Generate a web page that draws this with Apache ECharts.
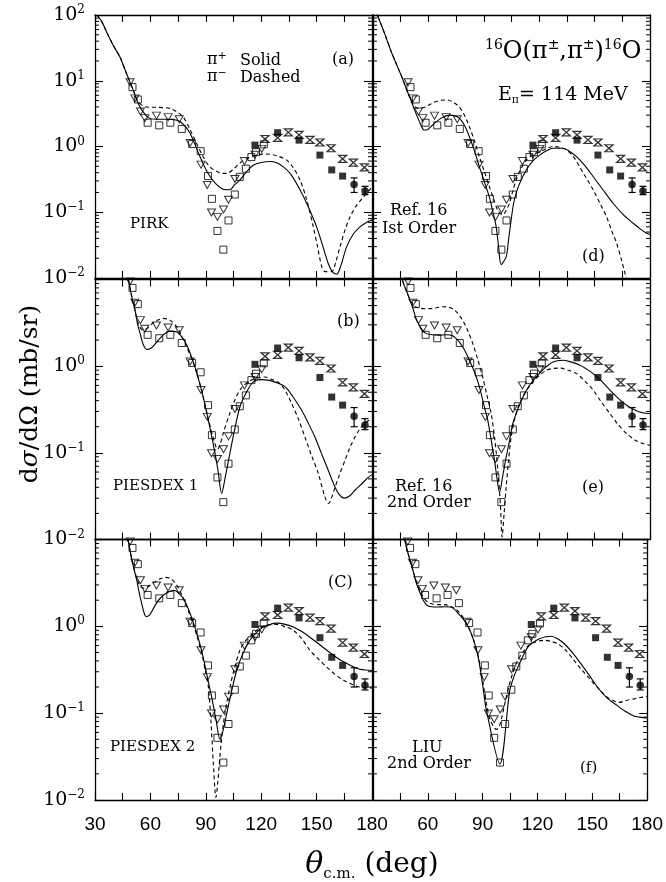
<!DOCTYPE html>
<html><head><meta charset="utf-8">
<script src="https://cdn.jsdelivr.net/npm/echarts@6/dist/echarts.min.js"></script>
<style>html,body{margin:0;padding:0;background:#fff}#c{width:666px;height:882px}</style>
</head><body><div id="c"></div>
<script>
// ---------- tick labels ----------
const xTickLabels = [30, 60, 90, 120, 150, 180];

// ---------- measured data (same in all panels) ----------
const triangleData = [[49.0,9.5],[51.6,5.4],[54.6,3.4],[57.0,2.7],[63.3,2.95],[69.6,2.8],[75.6,2.6],[81.5,1.13],[87.4,0.53],[90.8,0.26],[93.1,0.099],[96.3,0.085],[99.6,0.11],[102.3,0.155],[105.8,0.32],[110.9,0.6],[116.6,0.75],[120.3,0.92]];
const openSquareData = [[50.3,8.0],[53.2,5.2],[58.5,2.3],[64.8,2.1],[70.8,2.3],[77.0,1.85],[82.6,1.09],[87.2,0.85],[91.2,0.355],[93.3,0.16],[96.3,0.052],[99.5,0.027],[102.3,0.075],[105.7,0.186],[108.4,0.345],[111.7,0.46],[114.7,0.69],[117.2,0.82],[121.4,1.08]];
const filledSquareData = [[116.6,1.05],[128.9,1.62],[140.5,1.25],[151.8,0.74],[158.2,0.44],[164.1,0.355]];
const filledCircleData = [[170.3,0.264],[176.2,0.21]];
const circleErrors = [[170.3,0.2,0.333],[176.2,0.185,0.248]];
const crossData = [[122.1,1.3],[128.9,1.35],[134.7,1.64],[140.5,1.5],[146.4,1.26],[151.8,1.15],[157.8,0.94],[164.1,0.65],[169.9,0.57],[175.9,0.48]];

// ---------- model curves ----------
const aSolid = [[31,100],[33.6,80],[37,50],[40,34],[43.5,23],[47,13],[50.7,7.2],[53,4.8],[55.3,3.6],[58.9,2.75],[63,2.6],[68.8,2.6],[73,2.55],[76,2.4],[79,2.0],[81.4,1.6],[84,1.1],[86.9,0.7],[89.5,0.48],[92.3,0.35],[95.5,0.27],[98.6,0.23],[101,0.22],[103.1,0.22],[105.5,0.26],[108.5,0.31],[112,0.41],[115.7,0.52],[120,0.57],[124.8,0.59],[128,0.57],[132,0.49],[136,0.38],[141,0.22],[145,0.13],[150,0.06],[153,0.033],[156.3,0.0166],[158.5,0.0125],[160.9,0.0114],[163,0.015],[166.3,0.03],[170,0.047],[173.5,0.06],[177,0.07],[180,0.076]];
const aDash = [[31,100],[33.6,80],[37,50],[40,34],[43.5,23],[47,13],[50.7,7.2],[53,5.0],[56.2,4.1],[60,3.95],[63.4,3.95],[67,3.9],[70.6,3.8],[74,3.4],[77.8,2.8],[81.5,1.8],[85.1,1.1],[88,0.75],[90.5,0.56],[93,0.47],[95.9,0.42],[98.5,0.39],[101.3,0.39],[104.5,0.44],[108.5,0.56],[113,0.67],[117.5,0.74],[123,0.77],[128,0.73],[133.8,0.62],[137.5,0.47],[141,0.31],[144.5,0.16],[148.2,0.06],[150.5,0.03],[152.8,0.0148],[154.6,0.0125],[158.2,0.0125],[160.5,0.018],[162.7,0.03],[165.5,0.055],[168.1,0.085],[171.5,0.125],[175.3,0.17],[180,0.24]];

const bSolid = [[45,25],[48.1,10],[50,6.2],[51.7,4.4],[53,3.1],[54.4,2.4],[56,1.8],[58,1.56],[60.5,1.62],[63.4,1.9],[67,2.3],[70.6,2.54],[74,2.5],[77,2.18],[80,1.7],[83.2,1.12],[86,0.72],[88.6,0.44],[91.5,0.23],[94,0.128],[96.5,0.065],[98.6,0.034],[100.5,0.052],[103.1,0.1],[105.5,0.18],[108.5,0.34],[112,0.5],[115.7,0.66],[120,0.7],[123.9,0.69],[128,0.65],[132.9,0.58],[137,0.45],[141.9,0.31],[145.5,0.22],[149.1,0.152],[152.5,0.1],[156.3,0.063],[159,0.045],[161.8,0.034],[165,0.030],[168,0.032],[170.8,0.037],[174.5,0.044],[178,0.052],[180,0.056]];
const bDash = [[45,25],[48.1,10],[50,6.2],[51.7,4.4],[53,3.3],[54.4,2.8],[56,2.6],[58.5,2.75],[61,3.1],[64,3.4],[67,3.56],[70.5,3.4],[74.2,2.85],[77,2.2],[79.6,1.67],[83.2,1.1],[86,0.72],[88.6,0.44],[91.5,0.24],[94,0.15],[96.4,0.11],[98,0.13],[99.5,0.17],[103.1,0.29],[106,0.42],[109,0.55],[113,0.66],[117,0.72],[122.1,0.75],[126,0.7],[130.2,0.63],[133.5,0.5],[136.5,0.37],[140,0.25],[143.7,0.152],[147.5,0.09],[150.9,0.058],[154.5,0.031],[156.5,0.026],[158,0.03],[160,0.04],[162.5,0.057],[165.4,0.082],[168,0.115],[170.8,0.152],[173.5,0.19],[176.2,0.22],[180,0.25]];

const cSolid = [[45,25],[48.1,9.4],[50.5,5.2],[52.6,3.4],[54,2.4],[55.3,1.83],[56.5,1.45],[57.6,1.3],[59.5,1.35],[61.6,1.6],[64,1.95],[67,2.28],[70,2.5],[72.4,2.6],[75,2.45],[77.8,2.09],[80.5,1.6],[83.2,1.12],[86,0.72],[88.6,0.44],[91,0.25],[93.2,0.152],[95.5,0.085],[97.7,0.05],[99.5,0.065],[101.3,0.098],[104,0.18],[106.7,0.31],[110,0.48],[113.9,0.69],[117.5,0.85],[121.1,0.98],[124.5,1.05],[128.4,1.09],[132.5,1.06],[137.4,0.98],[142,0.87],[146.4,0.75],[151,0.63],[155.5,0.53],[160,0.45],[164.5,0.39],[169,0.35],[173.5,0.32],[180,0.31]];
const cDash = [[45,25],[48.1,9.4],[50.5,5.2],[52.6,3.6],[54.5,2.9],[56.5,2.75],[58.5,2.85],[61.5,3.15],[65,3.5],[68.1,3.66],[71,3.55],[74.2,3.0],[77,2.3],[79.6,1.7],[82.5,1.15],[85,0.8],[87.5,0.52],[89.5,0.33],[91.4,0.2],[92.8,0.08],[94.1,0.026],[95.5,0.0107],[96.5,0.016],[97.3,0.026],[98.3,0.045],[99.5,0.075],[101.3,0.13],[103.1,0.2],[105.5,0.33],[108.5,0.53],[112,0.7],[115.7,0.82],[119,0.95],[123,1.03],[128.4,1.05],[133,0.99],[137.4,0.9],[142,0.72],[146.4,0.53],[151,0.42],[155.5,0.34],[160,0.28],[164.5,0.24],[169,0.215],[173.5,0.2],[180,0.195]];

const dSolid = [[31,120],[32.3,100],[35.5,60],[39.6,29],[43,17],[45.9,10.9],[48.5,7],[50.5,5.1],[52.5,3.6],[54.1,2.8],[56,2.1],[57.7,1.78],[59.5,1.8],[61,1.95],[63.2,2.25],[67,2.7],[71.3,3.0],[74,2.95],[76.7,2.7],[79.5,2.1],[82.2,1.41],[85,0.85],[87.6,0.49],[90.5,0.28],[93,0.17],[95,0.1],[96.7,0.06],[98,0.03],[99.4,0.016],[102.1,0.021],[103.5,0.04],[104.8,0.076],[106,0.13],[107.5,0.195],[110,0.3],[113,0.44],[116.5,0.6],[120.2,0.74],[124,0.86],[127.4,0.94],[132.9,0.94],[136.5,0.84],[140.2,0.7],[144.5,0.52],[149.2,0.35],[154.5,0.22],[160,0.137],[165.5,0.092],[170.9,0.068],[175,0.055],[178.2,0.048],[180,0.046]];
const dDash = [[31,120],[32.3,100],[35.5,60],[39.6,29],[43,17],[45.9,10.9],[48.5,7],[50.5,5.1],[52.5,4.1],[54.5,3.8],[56.5,3.85],[58.6,4.0],[61,4.4],[64.1,4.8],[67,5.05],[70.4,5.1],[73.5,4.7],[76.7,4.0],[79.5,3.0],[82.2,2.0],[85,1.2],[87.6,0.7],[90.5,0.4],[93,0.245],[95.3,0.16],[97.5,0.108],[100.2,0.091],[102,0.105],[103.9,0.137],[105.5,0.2],[107.5,0.31],[110,0.45],[113,0.62],[116.5,0.75],[120.2,0.83],[124,0.93],[127.4,1.0],[131,0.97],[134.7,0.89],[138.5,0.7],[141.9,0.49],[145.5,0.33],[149.2,0.22],[153,0.135],[156.5,0.085],[159.5,0.05],[161.9,0.034],[164.5,0.019],[166.5,0.0117],[167.5,0.009]];

const eSolid = [[44,20],[45.9,10],[48.5,7],[51.4,4.85],[53,3.7],[55,2.98],[56.8,2.6],[58.6,2.39],[62,2.3],[65.9,2.28],[69.5,2.3],[73.1,2.25],[76.7,1.91],[79.5,1.55],[82.2,1.17],[85,0.85],[87.6,0.58],[90,0.36],[92.1,0.24],[94,0.14],[95.8,0.082],[97.2,0.05],[98.5,0.035],[100.3,0.055],[102.1,0.089],[104,0.14],[105.7,0.218],[108.5,0.32],[111.2,0.44],[114.5,0.59],[118.4,0.75],[122.5,0.93],[127.4,1.12],[132.9,1.17],[137,1.12],[141.9,1.03],[145.5,0.93],[149.2,0.82],[153.5,0.68],[158.3,0.53],[162.5,0.43],[167.3,0.354],[171.5,0.315],[176,0.29],[180,0.284]];
const eDash = [[44,20],[45.9,10],[48.5,7],[51.4,5.2],[53.5,4.8],[55.9,4.65],[59,4.6],[62.2,4.65],[65,4.75],[67.7,4.85],[70.5,4.8],[73.1,4.6],[75.8,4.1],[78.5,3.4],[81.2,2.6],[84,1.83],[86.7,1.2],[89.4,0.75],[91.7,0.46],[94,0.284],[96,0.14],[97.6,0.063],[99,0.025],[99.9,0.0107],[101,0.02],[102.1,0.04],[103.5,0.085],[104.8,0.152],[107,0.26],[109.3,0.37],[113,0.52],[116.6,0.66],[120,0.78],[123.9,0.9],[127.5,0.94],[131.1,0.95],[135.5,0.9],[140.2,0.82],[144.5,0.68],[149.2,0.53],[153.5,0.39],[158.3,0.284],[162.5,0.215],[167.3,0.167],[171.5,0.142],[176,0.128],[180,0.122]];

const fSolid = [[44,25],[47.8,9],[50,6],[52.3,4.07],[54,3.0],[55.9,2.39],[57.5,2.0],[59.5,1.75],[62,1.68],[65.9,1.67],[69,1.68],[72.2,1.67],[74.5,1.58],[76.7,1.4],[79.5,1.2],[82.2,0.98],[85,0.7],[87.6,0.44],[90,0.21],[92.1,0.107],[99.4,0.026],[104.8,0.182],[107,0.26],[109.3,0.34],[112,0.45],[114.8,0.58],[118,0.66],[121.1,0.72],[124.5,0.76],[127.4,0.77],[131,0.72],[134.7,0.63],[139,0.5],[143.8,0.37],[148,0.28],[152.8,0.2],[158,0.15],[163.7,0.122],[168,0.105],[172.7,0.093],[176,0.09],[180,0.088]];
const fDash = [[44,25],[47.8,9],[50,6],[52.3,4.1],[54,3.1],[56,2.5],[58,2.1],[60,1.9],[63,1.8],[66,1.78],[69,1.78],[72,1.72],[75,1.6],[77.5,1.42],[80,1.2],[82.5,0.95],[85,0.7],[87.6,0.45],[90,0.24],[92,0.13],[94,0.085],[96,0.07],[97.5,0.065],[99,0.07],[100.5,0.09],[102.5,0.14],[104.5,0.21],[106.5,0.29],[109,0.4],[112,0.5],[115,0.6],[118,0.65],[121,0.68],[123.9,0.69],[127.5,0.67],[131.1,0.63],[135.5,0.53],[140.2,0.4],[144.5,0.31],[149.2,0.24],[153.5,0.19],[158.3,0.152],[161.5,0.14],[164.6,0.133],[168.5,0.14],[172.7,0.146],[176,0.151],[180,0.155]];

// ---------- layout ----------
const panelDefs = [
  {col:0,row:0,solid:aSolid,dash:aDash,min:0.01,max:100,dec:4},
  {col:0,row:1,solid:bSolid,dash:bDash,min:0.01,max:10,dec:3},
  {col:0,row:2,solid:cSolid,dash:cDash,min:0.01,max:10,dec:3},
  {col:1,row:0,solid:dSolid,dash:dDash,min:0.01,max:100,dec:4},
  {col:1,row:1,solid:eSolid,dash:eDash,min:0.01,max:10,dec:3},
  {col:1,row:2,solid:fSolid,dash:fDash,min:0.01,max:10,dec:3}
];
const colLeft = [95, 373], colWidth = 277;
const rowTop = [15, 279.5, 539.5], rowHeight = [263, 260, 260.5];
const SERIF = 'DejaVu Serif';
const BLACK = '#000';

const grids = [], xAxes = [], yAxes = [], series = [];

function minorVals(dec) {
  const out = [];
  for (let k = -2; k <= dec - 3; k++) {
    for (let m = 2; m <= 9; m++) out.push([30, Number((m * Math.pow(10, k)).toPrecision(3))]);
  }
  return out;
}

panelDefs.forEach((p, i) => {
  grids.push({left: colLeft[p.col], top: rowTop[p.row], width: colWidth, height: rowHeight[p.row], containLabel: false});
  const bottomRow = p.row === 2;
  const lineStyle = {color: BLACK, width: 1.3};
  xAxes.push({
    type: 'value', gridIndex: i, min: 30, max: 180, interval: 15, position: 'bottom',
    axisLine: {show: true, onZero: false, lineStyle},
    axisTick: {show: true, inside: true, length: 7, lineStyle: {color: BLACK, width: 1.1}},
    splitLine: {show: false},
    axisLabel: {
      show: bottomRow, margin: 15, color: BLACK, fontSize: 19, fontFamily: 'Liberation Sans',
      formatter: v => (xTickLabels.indexOf(v) >= 0 && !(p.col === 1 && v === 30)) ? String(v) : ''
    }
  });
  xAxes.push({
    type: 'value', gridIndex: i, min: 30, max: 180, interval: 15, position: 'top',
    axisLine: {show: true, onZero: false, lineStyle},
    axisTick: {show: true, inside: true, length: 7, lineStyle: {color: BLACK, width: 1.1}},
    splitLine: {show: false}, axisLabel: {show: false}
  });
  yAxes.push({
    type: 'log', logBase: 10, gridIndex: i, min: p.min, max: p.max, splitNumber: p.dec, position: 'left',
    axisLine: {show: true, onZero: false, lineStyle},
    axisTick: {show: true, inside: true, length: 8, lineStyle: {color: BLACK, width: 1.1}},
    splitLine: {show: false},
    axisLabel: {
      show: p.col === 0, margin: 10,
      formatter: v => {
        const e = Math.round(Math.log10(v));
        if (p.dec === 3 && e === 1) return '';
        return '{b|10}{s|' + (e < 0 ? '\u2212' + (-e) : e) + '}';
      },
      rich: {
        b: {fontSize: 19, fontFamily: SERIF, color: BLACK, lineHeight: 22},
        s: {fontSize: 12, fontFamily: SERIF, color: BLACK, lineHeight: 12, verticalAlign: 'top'}
      }
    }
  });
  yAxes.push({
    type: 'log', logBase: 10, gridIndex: i, min: p.min, max: p.max, splitNumber: p.dec, position: 'right',
    axisLine: {show: true, onZero: false, lineStyle},
    axisTick: {show: true, inside: true, length: 8, lineStyle: {color: BLACK, width: 1.1}},
    splitLine: {show: false}, axisLabel: {show: false}
  });
  const ax = {xAxisIndex: 2 * i, yAxisIndex: 2 * i, silent: true, animation: false};
  series.push(Object.assign({type: 'custom', data: minorVals(p.dec), encode: {x: 0, y: 1},
    renderItem: (params, api) => {
      const v = api.value(1);
      const a = api.coord([30, v]), b = api.coord([180, v]);
      const st = {stroke: BLACK, lineWidth: 1};
      return {type: 'group', children: [
        {type: 'line', shape: {x1: a[0], y1: a[1], x2: a[0] + 4, y2: a[1]}, style: st},
        {type: 'line', shape: {x1: b[0] - 4, y1: b[1], x2: b[0], y2: b[1]}, style: st}
      ]};
    }}, ax));
  series.push(Object.assign({type: 'line', data: p.solid, showSymbol: false, smooth: 0.3, clip: true,
    lineStyle: {color: BLACK, width: 1.1}}, ax));
  series.push(Object.assign({type: 'line', data: p.dash, showSymbol: false, smooth: 0.3, clip: true,
    lineStyle: {color: BLACK, width: 1.1, type: [4, 3]}}, ax));
  const hollow = {color: 'transparent', borderColor: BLACK, borderWidth: 1};
  series.push(Object.assign({type: 'scatter', data: triangleData, symbol: 'triangle', symbolRotate: 180, symbolSize: [8, 7], itemStyle: hollow, clip: true}, ax));
  series.push(Object.assign({type: 'scatter', data: openSquareData, symbol: 'rect', symbolSize: 7, itemStyle: hollow, clip: true}, ax));
  series.push(Object.assign({type: 'scatter', data: filledSquareData, symbol: 'rect', symbolSize: 7, itemStyle: {color: BLACK}, clip: true}, ax));
  series.push(Object.assign({type: 'scatter', data: filledCircleData, symbol: 'circle', symbolSize: 7.5, itemStyle: {color: BLACK}, clip: true}, ax));
  series.push(Object.assign({type: 'scatter', data: crossData, symbol: 'path://M0,0L10,0L0,10L10,10Z', symbolSize: [8, 7],
    itemStyle: {color: 'transparent', borderColor: BLACK, borderWidth: 1.3}, clip: true}, ax));
  series.push(Object.assign({type: 'custom', data: circleErrors, encode: {x: 0, y: [1, 2]},
    renderItem: (params, api) => {
      const x = api.value(0);
      const lo = api.coord([x, api.value(1)]), hi = api.coord([x, api.value(2)]);
      const st = {stroke: BLACK, lineWidth: 1.2};
      return {type: 'group', children: [
        {type: 'line', shape: {x1: lo[0], y1: lo[1], x2: hi[0], y2: hi[1]}, style: st},
        {type: 'line', shape: {x1: lo[0] - 3.5, y1: lo[1], x2: lo[0] + 3.5, y2: lo[1]}, style: st},
        {type: 'line', shape: {x1: hi[0] - 3.5, y1: hi[1], x2: hi[0] + 3.5, y2: hi[1]}, style: st}
      ]};
    }}, ax));
});

// ---------- annotations ----------
function T(x, y, text, size, extra) {
  return Object.assign({type: 'text', x: x, y: y, silent: true,
    style: {text: text, fill: BLACK, font: size + 'px "' + SERIF + '"', textAlign: 'left', textVerticalAlign: 'middle'}}, extra || {});
}
function R(x, y, text, rich, align, extra) {
  return Object.assign({type: 'text', x: x, y: y, silent: true,
    style: {text: text, rich: rich, fill: BLACK, textAlign: align || 'left', textVerticalAlign: 'middle'}}, extra || {});
}
const supRich = (main, sup) => ({
  m: {fontSize: main, fontFamily: SERIF, color: BLACK, lineHeight: main + 3},
  u: {fontSize: sup, fontFamily: SERIF, color: BLACK, lineHeight: sup, verticalAlign: 'top'},
  d: {fontSize: sup, fontFamily: SERIF, color: BLACK, lineHeight: sup, verticalAlign: 'bottom'}
});
const graphic = [
  R(207, 60, '{m|\u03c0}{u|+}', supRich(16, 11)),
  T(240, 61, 'Solid', 16),
  R(207, 77, '{m|\u03c0}{u|\u2212}', supRich(16, 11)),
  T(240, 78, 'Dashed', 16),
  T(332, 60, '(a)', 16),
  T(130, 224, 'PIRK', 15),
  T(337, 322, '(b)', 16),
  T(113, 486, 'PIESDEX 1', 15),
  T(328, 583, '(C)', 16),
  T(110, 747, 'PIESDEX 2', 15),
  R(485, 52, '{u|16}{m|O(\u03c0}{u|\u00b1}{m|,\u03c0}{u|\u00b1}{m|)}{u|16}{m|O}', supRich(24, 14)),
  R(498, 95, '{m|E}{d|\u03c0}{m|= 114 MeV}', supRich(19, 11)),
  T(390, 211, 'Ref. 16', 16),
  T(382, 229, 'Ist Order', 16),
  T(582, 257, '(d)', 16),
  T(582, 488, '(e)', 16),
  T(395, 487, 'Ref. 16', 16),
  T(387, 503, '2nd Order', 16),
  T(412, 748, 'LIU', 16),
  T(387, 764, '2nd Order', 16),
  T(580, 768, '(f)', 15),
  R(30, 394, '{m|d}{i|\u03c3}{m|/d\u03a9 (mb/sr)}', {
    m: {fontSize: 25, fontFamily: SERIF, color: BLACK},
    i: {fontSize: 25, fontFamily: SERIF, color: BLACK, fontStyle: 'italic'}
  }, 'center', {rotation: Math.PI / 2}),
  R(372, 865, '{t|\u03b8}{s|c.m.}{m| (deg)}', {
    t: {fontSize: 30, fontFamily: SERIF, fontStyle: 'italic', color: BLACK, lineHeight: 34},
    s: {fontSize: 15, fontFamily: SERIF, color: BLACK, lineHeight: 15, verticalAlign: 'bottom'},
    m: {fontSize: 28, fontFamily: SERIF, color: BLACK, lineHeight: 34}
  }, 'center')
];

const chart = echarts.init(document.getElementById('c'), null, {renderer: 'canvas'});
chart.setOption({
  animation: false,
  backgroundColor: '#fff',
  grid: grids, xAxis: xAxes, yAxis: yAxes, series: series, graphic: graphic
});
</script></body></html>
